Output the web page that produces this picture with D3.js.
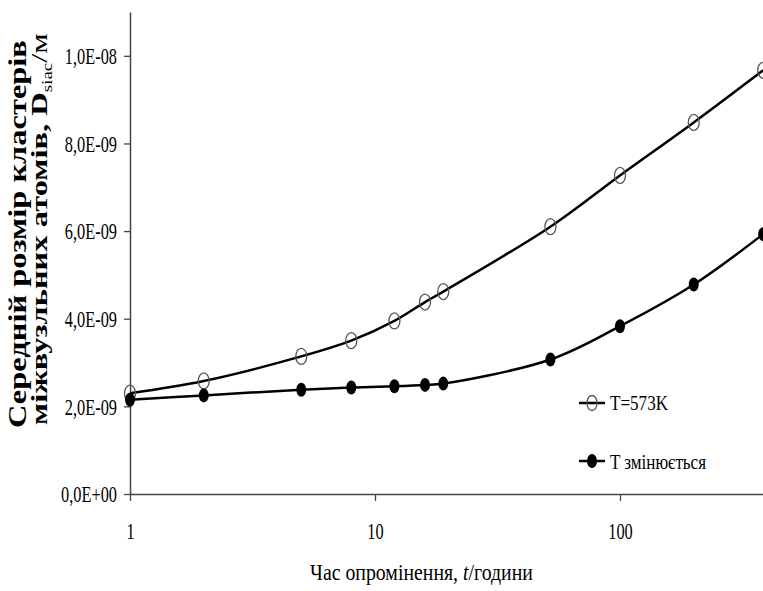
<!DOCTYPE html>
<html><head><meta charset="utf-8">
<script src="https://cdn.jsdelivr.net/npm/d3@7"></script>
<style>
html,body{margin:0;padding:0;background:#fff;}
svg{display:block;}
svg text{font-family:"Liberation Serif","Times New Roman",serif !important;fill:#000;}
</style></head>
<body>
<svg id="chart" width="763" height="591"></svg>
<script>
// ---- data ----
const hours = [1, 2, 5, 8, 12, 16, 19, 52, 100, 200, 384];
const sizeConstT = [2.30e-9, 2.58e-9, 3.14e-9, 3.50e-9, 3.95e-9, 4.38e-9, 4.62e-9, 6.10e-9, 7.27e-9, 8.48e-9, 9.67e-9];
const sizeVarT  = [2.15e-9, 2.25e-9, 2.38e-9, 2.43e-9, 2.46e-9, 2.49e-9, 2.52e-9, 3.07e-9, 3.83e-9, 4.78e-9, 5.93e-9];
const seriesNames = ["T=573K", "T змінюється"];
const xTicks = [1, 10, 100];
const yTicks = [0, 2e-9, 4e-9, 6e-9, 8e-9, 1e-8];
const xTitle = "Час опромінення, ";
const yTitle1 = "Середній розмір  кластерів";
const yTitle2 = "міжвузльних атомів, D";

const svg = d3.select("#chart");
const x = d3.scaleLog().domain([1, 400]).range([130, 130 + 245 * Math.log10(400)]);
const y = d3.scaleLinear().domain([0, 1.1e-8]).range([494, 12]);

function fmt(v) {
  if (v === 0) return "0,0E+00";
  const e = Math.floor(Math.log10(v) + 1e-9);
  const m = v / Math.pow(10, e);
  const es = (e < 0 ? "-" : "+") + String(Math.abs(e)).padStart(2, "0");
  return m.toFixed(1).replace(".", ",") + "E" + es;
}
function condense(sel, k) {
  sel.each(function () {
    const w = this.getComputedTextLength();
    this.setAttribute("textLength", w * k);
    this.setAttribute("lengthAdjust", "spacingAndGlyphs");
  });
}

// axes
const gy = svg.append("g").attr("transform", "translate(130,0)")
  .call(d3.axisLeft(y).tickValues(yTicks).tickFormat(fmt).tickSizeInner(6).tickSizeOuter(0).tickPadding(7));
gy.select(".domain").attr("stroke", "#444").attr("stroke-width", 1.5);
gy.selectAll(".tick line").attr("stroke", "#444").attr("stroke-width", 1.3);
gy.selectAll("text").attr("font-size", 24).call(condense, 0.68);

const gx = svg.append("g").attr("transform", "translate(0,494)")
  .call(d3.axisBottom(x).tickValues(xTicks).tickFormat(d3.format("d")).tickSizeInner(7).tickSizeOuter(0).tickPadding(21));
gx.select(".domain").attr("stroke", "#444").attr("stroke-width", 1.5);
gx.selectAll(".tick line").attr("stroke", "#444").attr("stroke-width", 1.3);
gx.selectAll("text").attr("font-size", 24).call(condense, 0.68);

// lines
const line = d3.line().x(d => x(d[0])).y(d => y(d[1])).curve(d3.curveCatmullRom.alpha(0.5));
const dA = hours.map((h, i) => [h, sizeConstT[i]]);
const dB = hours.map((h, i) => [h, sizeVarT[i]]);
svg.append("path").datum(dA).attr("d", line).attr("fill", "none").attr("stroke", "#000").attr("stroke-width", 2.5);
svg.append("path").datum(dB).attr("d", line).attr("fill", "none").attr("stroke", "#000").attr("stroke-width", 2.5);

svg.append("g").selectAll("ellipse").data(dA).join("ellipse")
  .attr("cx", d => x(d[0])).attr("cy", d => y(d[1])).attr("rx", 5.5).attr("ry", 8)
  .attr("fill", "none").attr("stroke", "#555").attr("stroke-width", 1.3);
svg.append("g").selectAll("ellipse").data(dB).join("ellipse")
  .attr("cx", d => x(d[0])).attr("cy", d => y(d[1])).attr("rx", 5).attr("ry", 7)
  .attr("fill", "#000");

// legend
const leg = svg.append("g");
leg.append("line").attr("x1", 579).attr("x2", 605).attr("y1", 403).attr("y2", 403).attr("stroke", "#000").attr("stroke-width", 2.5);
leg.append("ellipse").attr("cx", 592).attr("cy", 403).attr("rx", 5).attr("ry", 7.5).attr("fill", "none").attr("stroke", "#555").attr("stroke-width", 1.3);
leg.append("text").attr("x", 610).attr("y", 410).attr("font-size", 20).text(seriesNames[0])
  .attr("textLength", 58).attr("lengthAdjust", "spacingAndGlyphs");
leg.append("line").attr("x1", 579).attr("x2", 605).attr("y1", 461).attr("y2", 461).attr("stroke", "#000").attr("stroke-width", 2.5);
leg.append("ellipse").attr("cx", 592).attr("cy", 461).attr("rx", 5).attr("ry", 7).attr("fill", "#000");
leg.append("text").attr("x", 610).attr("y", 469).attr("font-size", 20).text(seriesNames[1])
  .attr("textLength", 96).attr("lengthAdjust", "spacingAndGlyphs");

// x title (scaled horizontally)
const gxt = svg.append("g").attr("transform", "translate(310,580)");
const xt = gxt.append("text").attr("x", 0).attr("y", 0).attr("font-size", 24);
xt.append("tspan").text(xTitle);
xt.append("tspan").attr("font-style", "italic").text("t");
xt.append("tspan").text("/години");
const wx = xt.node().getComputedTextLength();
xt.attr("transform", `scale(${223 / wx},1)`);

// y title (rotated)
const g1 = svg.append("g").attr("transform", "translate(26,428) rotate(-90)");
const t1 = g1.append("text").attr("x", 0).attr("y", 0).attr("font-size", 25).attr("font-weight", "bold").text(yTitle1);
const w1 = t1.node().getComputedTextLength();
t1.attr("transform", `scale(${388 / w1},1)`);

const g2 = svg.append("g").attr("transform", "translate(47,425) rotate(-90)");
const t2 = g2.append("text").attr("x", 0).attr("y", 0).attr("font-size", 24).attr("font-weight", "bold");
t2.append("tspan").text(yTitle2);
t2.append("tspan").attr("font-size", 14).attr("font-weight", "normal").attr("dy", 5).text("siac");
t2.append("tspan").attr("dy", -5).attr("font-weight", "normal").text("/м");
const w2 = t2.node().getComputedTextLength();
t2.attr("transform", `scale(${392 / w2},1)`);
</script>
</body></html>
